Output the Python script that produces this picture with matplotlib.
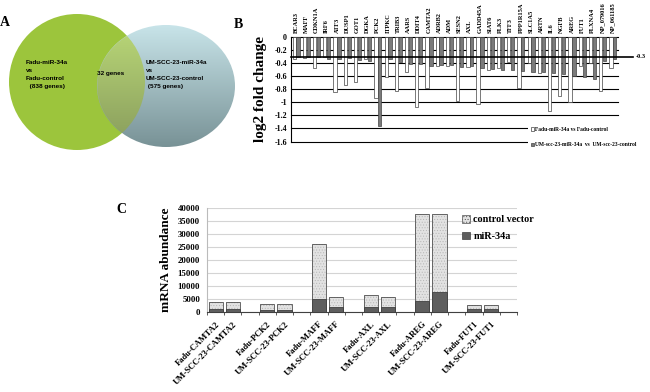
import matplotlib
matplotlib.use("Agg")
import matplotlib.pyplot as plt
import numpy as np
from matplotlib.patches import Circle, Ellipse, Patch

# ---- panel A: Venn counts ----
venn_left = ["Fadu-miR-34a", "vs", "Fadu-control", "  (838 genes)"]
venn_right = ["UM-SCC-23-miR-34a", "vs", "UM-SCC-23-control", " (575 genes)"]
venn_mid = "32 genes"

# ---- panel B: log2 fold change per gene ----
genes = ["BCAR3", "MAFF", "CDKN1A", "IRF6", "ATF3", "DUSP1", "GOT1", "DGKA",
         "PCK2", "ITPKC", "TRIB3", "AARS", "DDIT4", "CAMTA2", "ADRB2", "ADM",
         "SESN2", "AXL", "GADD45A", "SIAT6", "PLK3", "TFF3", "PPP1R15A",
         "SLC1A5", "ARTN", "IL6", "NGFB", "AREG", "FUT1", "PLXNA4",
         "NP_079016", "NP_061185"]
fadu_fc = [-0.33, -0.32, -0.48, -0.31, -0.84, -0.73, -0.69, -0.33,
           -0.93, -0.62, -0.82, -0.53, -1.07, -0.78, -0.45, -0.44,
           -0.98, -0.46, -1.03, -0.50, -0.48, -0.38, -0.78,
           -0.40, -0.55, -1.13, -0.91, -1.00, -0.45, -0.40,
           -0.82, -0.47]
umscc_fc = [-0.31, -0.31, -0.31, -0.33, -0.33, -0.32, -0.35, -0.37,
            -1.37, -0.33, -0.38, -0.41, -0.42, -0.44, -0.43, -0.43,
            -0.46, -0.44, -0.48, -0.49, -0.50, -0.50, -0.52,
            -0.53, -0.54, -0.55, -0.56, -0.60, -0.62, -0.64,
            -0.36, -0.33]
cutoff = -0.3
b_yticks = [0, -0.2, -0.4, -0.6, -0.8, -1, -1.2, -1.4, -1.6]

# ---- panel C: mRNA abundance ----
c_labels = ["Fadu-CAMTA2", "UM-SCC-23-CAMTA2", "Fadu-PCK2", "UM-SCC-23-PCK2",
            "Fadu-MAFF", "UM-SCC-23-MAFF", "Fadu-AXL", "UM-SCC-23-AXL",
            "Fadu-AREG", "UM-SCC-23-AREG", "Fadu-FUT1", "UM-SCC-23-FUT1"]
control_vec = [3850, 3900, 2950, 2850, 25900, 5750, 6300, 5500,
               37600, 37600, 2700, 2450]
mir34a = [1200, 1200, 500, 500, 4850, 1900, 1800, 1700,
          4100, 7700, 1000, 900]
c_yticks = list(range(0, 40001, 5000))

SERIF = "Liberation Serif"
SANS = "Liberation Sans"

fig = plt.figure(figsize=(6.5, 3.92), dpi=100)

# background axes in pixel units for the Venn diagram and panel letters
bg = fig.add_axes([0, 0, 1, 1])
bg.set_xlim(0, 650)
bg.set_ylim(392, 0)
bg.set_autoscale_on(False)
bg.axis("off")

g_c, g_r = (77, 82), 68
b_c, b_rx, b_ry = (166, 86), 69, 61
bg.add_patch(Circle(g_c, g_r, facecolor="#9cc53c", edgecolor="none", zorder=1))

def shade(top, bottom, frac):
    top = np.array(top) / 255.0
    bottom = np.array(bottom) / 255.0
    return top * (1 - frac) + bottom * frac

# right set: blue gradient clipped to its ellipse
blue = Ellipse(b_c, 2 * b_rx, 2 * b_ry, facecolor="none", edgecolor="none")
bg.add_patch(blue)
ext = (b_c[0] - b_rx, b_c[0] + b_rx, b_c[1] + b_ry, b_c[1] - b_ry)
frac = np.linspace(0, 1, 200)[:, None, None] * np.ones((1, 2, 1))
im = bg.imshow(shade((200, 228, 233), (120, 146, 150), frac), extent=ext,
               aspect="auto", zorder=2, interpolation="bilinear")
im.set_clip_path(blue)

# overlap: green-tinted gradient, clipped to the left circle and masked to the ellipse
green_clip = Circle(g_c, g_r, facecolor="none", edgecolor="none")
bg.add_patch(green_clip)
ys = np.linspace(ext[3], ext[2], 400)
xs = np.linspace(ext[0], ext[1], 400)
XX, YY = np.meshgrid(xs, ys)
ff = ((YY - ys[0]) / (ys[-1] - ys[0]))[..., None]
rgba = np.concatenate(
    [shade((186, 216, 120), (136, 156, 92), ff),
     (((XX - b_c[0]) / b_rx) ** 2 + ((YY - b_c[1]) / b_ry) ** 2 <= 1.0)[..., None]
     .astype(float)], axis=2)
im2 = bg.imshow(rgba, extent=ext, aspect="auto", zorder=3,
                interpolation="bilinear")
im2.set_clip_path(green_clip)

vfont = dict(family=SANS, fontweight="bold", fontsize=4.6, va="center", zorder=4)
for i, s in enumerate(venn_left):
    bg.text(26, 62 + 8.3 * i, s, **vfont)
for i, s in enumerate(venn_right):
    bg.text(146, 62 + 8.3 * i, s, **vfont)
bg.text(97, 73, venn_mid, **vfont)

for letter, x, y in [("A", 5, 22), ("B", 238, 24), ("C", 121, 209)]:
    bg.text(x, y, letter, family=SERIF, fontweight="bold", fontsize=10,
            ha="center", va="center")

# ---- panel B ----
axb = fig.add_axes([291 / 650, 1 - 141.5 / 392, 327 / 650, 104.5 / 392])
n = len(genes)
xb = np.arange(n)
for v in b_yticks:
    axb.axhline(v, color="black", lw=0.8, zorder=1, clip_on=False)
axb.bar(xb - 0.19, fadu_fc, width=0.32, color="white", edgecolor="#444444",
        lw=0.5, zorder=2, label="Fadu-miR-34a vs Fadu-control")
axb.bar(xb + 0.19, umscc_fc, width=0.32, color="#7a7a7a", edgecolor="#444444",
        lw=0.5, zorder=2, label="UM-scc-23-miR-34a  vs  UM-scc-23-control")
axb.plot([0, 1.046], [cutoff, cutoff], transform=axb.get_yaxis_transform(),
         color="black", lw=1.2, clip_on=False, zorder=3)
axb.text(1.055, cutoff, f"{cutoff:g}", transform=axb.get_yaxis_transform(),
         family=SERIF, fontweight="bold", fontsize=4.5, va="center")
axb.set_xlim(-0.5, n - 0.5)
axb.set_ylim(-1.6, 0)
axb.set_yticks(b_yticks)
axb.set_yticklabels([f"{v:g}" for v in b_yticks], family=SERIF,
                    fontweight="bold", fontsize=5.8)
axb.tick_params(axis="y", length=0, pad=3)
axb.xaxis.tick_top()
axb.set_xticks(xb)
axb.set_xticklabels(genes, rotation=90, family=SERIF, fontweight="bold",
                    fontsize=4.6)
axb.tick_params(axis="x", length=0, pad=3)
for s in ["top", "right", "bottom"]:
    axb.spines[s].set_visible(False)
axb.spines["left"].set_linewidth(0.8)
axb.set_ylabel("log2 fold change", family=SERIF, fontweight="bold",
               fontsize=11, labelpad=5)
leg = axb.legend(loc="upper left", bbox_to_anchor=(528 / 650, 1 - 124 / 392),
                 bbox_transform=fig.transFigure, frameon=True, fancybox=False,
                 facecolor="white", edgecolor="none", framealpha=1,
                 prop=dict(family=SERIF, weight="bold", size=4.0),
                 handlelength=0.6, handleheight=0.6, handletextpad=0.2,
                 labelspacing=1.9, borderpad=0.5, borderaxespad=0)
leg.set_zorder(5)

# ---- panel C ----
axc = fig.add_axes([207 / 650, 1 - 311.7 / 392, 310 / 650, 104 / 392])
slots = np.array([(i // 2) * 3 + i % 2 for i in range(len(c_labels))]) + 0.5
plt.rcParams["hatch.linewidth"] = 0.4
axc.bar(slots, control_vec, width=0.82, color="#e2e2e2", hatch="......",
        edgecolor="#b5b5b5", lw=0, zorder=2)
axc.bar(slots, control_vec, width=0.82, fill=False, edgecolor="#505050",
        lw=0.6, zorder=3)
axc.bar(slots, mir34a, width=0.82, color="#5e5e5e", edgecolor="#404040",
        lw=0.6, zorder=4)
axc.set_xlim(0, 18)
axc.set_ylim(0, 40000)
axc.set_yticks(c_yticks)
axc.set_yticklabels([str(v) for v in c_yticks], family=SERIF,
                    fontweight="bold", fontsize=6.3)
axc.tick_params(axis="y", length=0, pad=5)
axc.grid(axis="y", color="#d4d4d4", lw=0.8, zorder=0)
axc.set_axisbelow(True)
axc.set_xticks(slots)
axc.set_xticklabels(c_labels, rotation=45, ha="right", rotation_mode="anchor",
                    family=SERIF, fontweight="bold", fontsize=6.2)
axc.tick_params(axis="x", which="major", length=0, pad=6)
axc.set_xticks(np.arange(0, 19), minor=True)
axc.tick_params(axis="x", which="minor", length=2.5, width=0.6, color="#404040")
for s in ["top", "right"]:
    axc.spines[s].set_visible(False)
axc.spines["left"].set_color("#bbbbbb")
axc.spines["bottom"].set_color("#404040")
axc.spines["bottom"].set_linewidth(0.8)
axc.set_ylabel("mRNA abundance", family=SERIF, fontweight="bold",
               fontsize=9.5, labelpad=4)
handles = [Patch(facecolor="#e2e2e2", edgecolor="#505050", hatch="......",
                 lw=0.5, label="control vector"),
           Patch(facecolor="#5e5e5e", edgecolor="#404040", lw=0.5,
                 label="miR-34a")]
axc.legend(handles=handles, loc="upper left",
           bbox_to_anchor=(458 / 650, 1 - 211 / 392),
           bbox_transform=fig.transFigure, frameon=False,
           prop=dict(family=SERIF, weight="bold", size=7.3),
           handlelength=0.8, handleheight=0.8, handletextpad=0.3,
           labelspacing=0.7, borderaxespad=0)

fig.savefig("out.png", dpi=100)
